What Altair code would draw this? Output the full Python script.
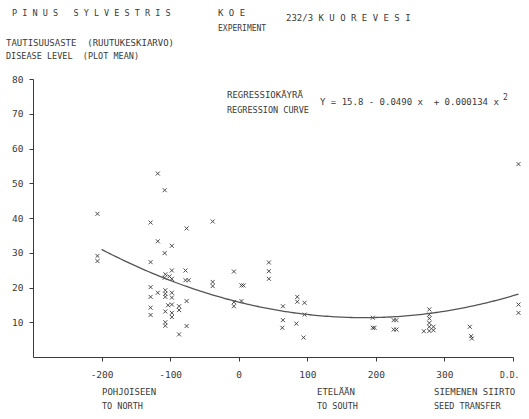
import altair as alt
import pandas as pd

# seed transfer (D.D.) and disease level (plot mean)
transfer = [-206, -206, -206,
            -118, -108, -128.5, -38, -76, -118, -97.5, -108, -128.5,
            -97.5, -107, -101, -97.5, -108,
            -77.6, -77.6, -73,
            -38, -38,
            -7, 4, 7, -7, -7, 4,
            -128.5, -118, -107, -107, -107, -97.5, -97.5, -128.5,
            -76, -103, -97.5, -87, -87, -128.5, -107, -97.5, -97.5, -128.5, -107, -107, -76, -87,
            408, 44, 44, 44, 85.4, 85.4, 96, 64.5, 96, 64.5, 63.6, 84, 94.6,
            195.5, 195.5, 198, 226, 230, 226, 230,
            278, 278, 278, 278, 278, 278, 284, 284, 270,
            337, 339, 340, 408, 408]
disease = [41.2, 29.1, 27.6,
           52.8, 48.0, 38.7, 39.0, 37.0, 33.3, 32.0, 29.9, 27.3,
           24.9, 23.8, 23.2, 22.5, 22.8,
           24.9, 22.1, 22.1,
           21.6, 20.4,
           24.6, 20.6, 20.6, 15.8, 14.6, 16.1,
           20.1, 18.5, 19.2, 18.2, 17.3, 18.5, 17.1, 17.3,
           16.1, 14.9, 15.1, 14.6, 13.5, 14.2, 13.1, 12.7, 11.5, 12.1, 10.0, 9.0, 8.9, 6.5,
           55.5, 27.2, 24.7, 22.5, 17.3, 15.9, 15.6, 14.6, 12.2, 10.6, 8.4, 9.6, 5.6,
           11.3, 8.4, 8.4, 10.6, 10.6, 7.9, 7.9,
           13.7, 12.2, 11.1, 9.8, 8.7, 7.5, 8.7, 7.7, 7.4,
           8.7, 6.0, 5.3, 15.1, 12.7]

coef = [15.8, -0.0490, 0.000134]   # regression curve coefficients
x_ticks = [-200, -100, 0, 100, 200, 300, 400]
y_ticks = [10, 20, 30, 40, 50, 60, 70, 80]

pts = pd.DataFrame({"transfer": transfer, "disease": disease})

FONT = "DejaVu Sans Mono"
INK = "#3a3a3a"
W, H = 480, 278
SP = "\u00a0"

xs = alt.Scale(domain=[-300, 400], nice=False, zero=False)
ys = alt.Scale(domain=[0, 80], nice=False)

x_axis = alt.Axis(values=x_ticks, title=None, grid=False, tickSize=4, labelPadding=8,
                  labelOverlap=False,
                  labelExpr="datum.value == 400 ? '' : toString(datum.value)")
y_axis = alt.Axis(values=y_ticks, title=None, grid=False, tickSize=4, labelPadding=6,
                  labelOverlap=False)

xcross = "M-1,-1L1,1M-1,1L1,-1"

points = alt.Chart(pts).mark_point(
    shape=xcross, size=16, strokeWidth=0.9, color=INK, filled=False, opacity=1
).encode(
    x=alt.X("transfer:Q", scale=xs, axis=x_axis),
    y=alt.Y("disease:Q", scale=ys, axis=y_axis),
)

curve = alt.Chart(alt.sequence(-200, 409, 4, as_="transfer")).transform_calculate(
    disease=f"{coef[0]} + ({coef[1]})*datum.transfer + {coef[2]}*datum.transfer*datum.transfer"
).mark_line(color="#555555", strokeWidth=1.3).encode(
    x=alt.X("transfer:Q", scale=xs, axis=x_axis),
    y=alt.Y("disease:Q", scale=ys, axis=y_axis),
)


def label(txt, x, y, size=9.0):
    return alt.Chart(alt.Data(values=[{}])).mark_text(
        text=txt.replace(" ", SP), align="left", baseline="alphabetic", font=FONT,
        fontSize=size, color=INK
    ).encode(x=alt.value(x), y=alt.value(y))


eq = f"Y = {coef[0]} - {abs(coef[1]):.4f} x  + {coef[2]:.6f} x"

texts = [
    label("P I N U S   S Y L V E S T R I S", -21, -63, 8.5),
    label("K O E", 185, -63, 9),
    label("EXPERIMENT", 185, -48, 8),
    label("232/3 K U O R E V E S I", 253, -58, 9),
    label("TAUTISUUSASTE  (RUUTUKESKIARVO)", -27, -33, 9),
    label("DISEASE LEVEL  (PLOT MEAN)", -27, -20, 8.5),
    label("REGRESSIOKÄYRÄ", 194, 19, 9),
    label("REGRESSION CURVE", 194, 34, 8.5),
    label(eq, 287, 26, 9),
    label("2", 470, 21, 8),
    label("D.D.", 467, 299, 8),
    label("POHJOISEEN", 69, 316, 9),
    label("TO NORTH", 69, 330, 8.5),
    label("ETELÄÄN", 284, 316, 9),
    label("TO SOUTH", 284, 330, 8.5),
    label("SIEMENEN SIIRTO", 401, 316, 9),
    label("SEED TRANSFER", 401, 330, 8.5),
]

chart = alt.layer(points, curve, *texts).properties(
    width=W, height=H,
    autosize=alt.AutoSizeParams(type="none"),
    padding={"left": 33, "top": 79, "right": 16, "bottom": 62},
).configure_view(stroke=None).configure_axis(
    domainColor=INK, tickColor=INK, labelColor=INK, labelFont=FONT,
    labelFontSize=9.5, domainWidth=1, tickWidth=1
)

chart.save("out.html", embed_options={"renderer": "svg", "actions": False})
